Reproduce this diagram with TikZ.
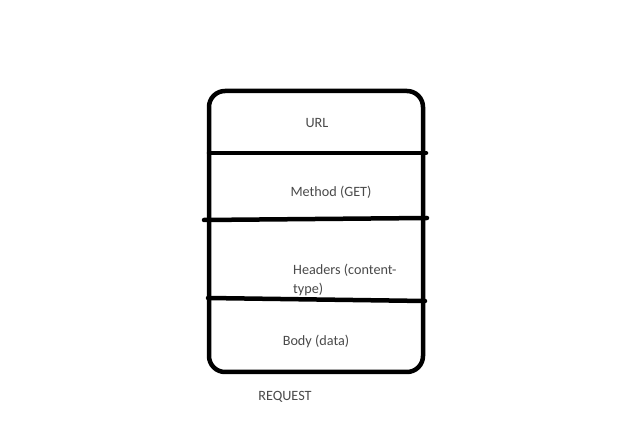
\documentclass[tikz,border=0pt]{standalone}
\usepackage{fontspec}
\setmainfont{Carlito}
\definecolor{txt}{HTML}{4a4a4a}
\begin{document}
\begin{tikzpicture}[x=1pt,y=-1pt,
  thick line/.style={line width=4.5pt,line cap=round,line join=round},
  lbl/.style={text=txt,font=\fontsize{14.2}{17}\selectfont,inner sep=0pt}]
\useasboundingbox[fill=white] (0,0) rectangle (643,427);
\draw[thick line,rounded corners=16pt] (209,91) rectangle (423,372);
\coordinate (a1) at (209,153); \coordinate (a2) at (426,153);
\coordinate (b1) at (204,220); \coordinate (b2) at (427,218);
\coordinate (c1) at (208,298); \coordinate (c2) at (425,301);
\draw[thick line] (a1) -- (a2);
\draw[thick line] (b1) -- (b2);
\draw[thick line] (c1) -- (c2);
\node[lbl] (url) at (317,123) {URL};
\node[lbl] (method) at (331,192) {Method (GET)};
\node[lbl,anchor=west] (headers1) at (293,270) {Headers (content-};
\node[lbl,anchor=west] (headers2) at (293,289) {type)};
\node[lbl] (body) at (316,341) {Body (data)};
\node[lbl] (request) at (285,397) {REQUEST};
\end{tikzpicture}
\end{document}
